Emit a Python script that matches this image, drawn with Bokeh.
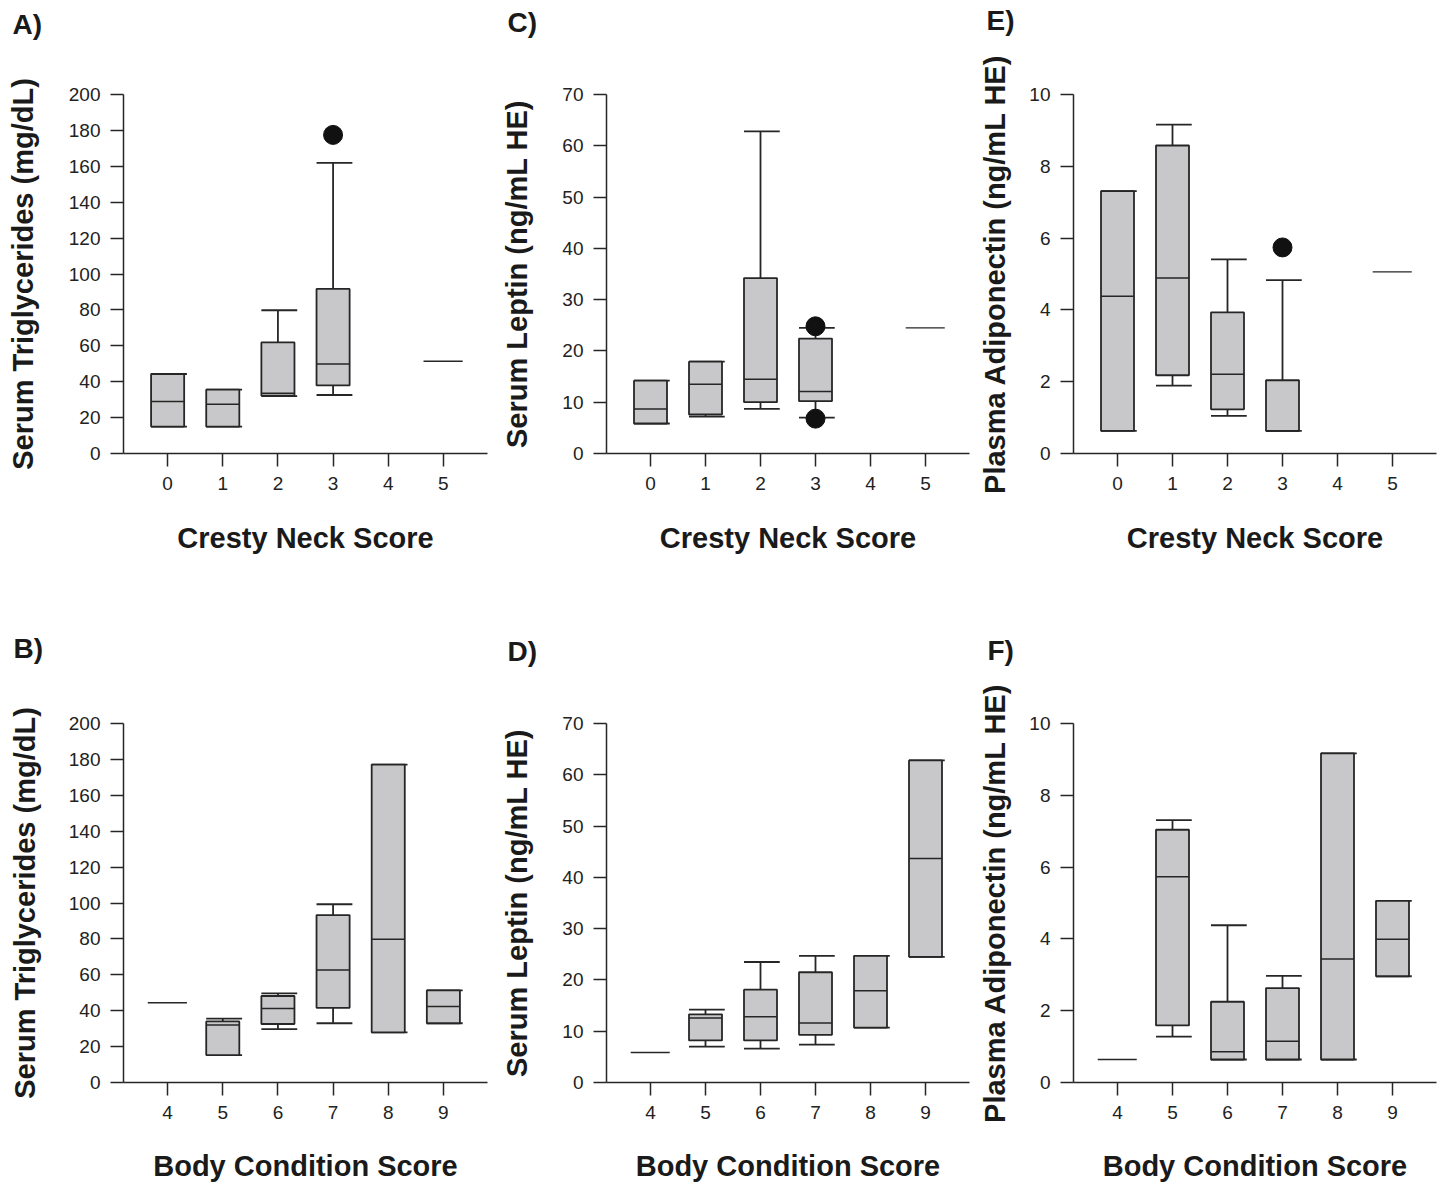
import numpy as np
from bokeh.plotting import figure
from bokeh.models import Range1d, FixedTicker, ColumnDataSource, Title
from bokeh.layouts import column, row
from bokeh.embed import file_html
from bokeh.resources import INLINE

# ---------------- data ----------------
cns_ticks = [0, 1, 2, 3, 4, 5]
bcs_ticks = [4, 5, 6, 7, 8, 9]
tg_ticks = [0, 20, 40, 60, 80, 100, 120, 140, 160, 180, 200]
lep_ticks = [0, 10, 20, 30, 40, 50, 60, 70]
adi_ticks = [0, 2, 4, 6, 8, 10]

# A) Serum triglycerides vs cresty neck score
a_x = [0, 1, 2, 3, 5]
a_min = [15.0, 15.0, 32.0, 32.6, 51.4]
a_q1 = [15.0, 15.0, 32.2, 37.9, 51.4]
a_med = [29.0, 27.5, 33.6, 49.8, 51.4]
a_q3 = [44.3, 35.6, 61.9, 91.7, 51.4]
a_max = [44.3, 35.6, 79.8, 161.9, 51.4]
a_out_x = [3]
a_out_y = [177.5]

# B) Serum triglycerides vs body condition score
b_x = [4, 5, 6, 7, 8, 9]
b_min = [44.4, 15.3, 29.7, 33.0, 27.9, 33.0]
b_q1 = [44.4, 15.3, 32.6, 41.6, 27.9, 33.0]
b_med = [44.4, 32.0, 41.2, 62.7, 79.8, 42.4]
b_q3 = [44.4, 34.0, 48.2, 93.3, 177.1, 51.3]
b_max = [44.4, 35.6, 49.6, 99.3, 177.1, 51.3]
b_out_x = []
b_out_y = []

# C) Serum leptin vs cresty neck score
c_x = [0, 1, 2, 3, 5]
c_min = [5.85, 7.2, 8.7, 7.0, 24.5]
c_q1 = [5.85, 7.6, 10.0, 10.2, 24.5]
c_med = [8.7, 13.5, 14.5, 12.1, 24.5]
c_q3 = [14.2, 17.9, 34.2, 22.4, 24.5]
c_max = [14.2, 17.9, 62.8, 24.5, 24.5]
c_out_x = [3, 3]
c_out_y = [24.8, 6.8]

# D) Serum leptin vs body condition score
d_x = [4, 5, 6, 7, 8, 9]
d_min = [5.86, 7.0, 6.6, 7.4, 10.7, 24.5]
d_q1 = [5.86, 8.2, 8.2, 9.3, 10.7, 24.5]
d_med = [5.86, 12.6, 12.8, 11.6, 17.9, 43.7]
d_q3 = [5.86, 13.3, 18.1, 21.5, 24.7, 62.8]
d_max = [5.86, 14.2, 23.5, 24.7, 24.7, 62.8]
d_out_x = []
d_out_y = []

# E) Plasma adiponectin vs cresty neck score
e_x = [0, 1, 2, 3, 5]
e_min = [0.63, 1.89, 1.05, 0.63, 5.06]
e_q1 = [0.63, 2.18, 1.23, 0.63, 5.06]
e_med = [4.38, 4.89, 2.21, 0.63, 5.06]
e_q3 = [7.31, 8.58, 3.93, 2.04, 5.06]
e_max = [7.31, 9.16, 5.41, 4.83, 5.06]
e_out_x = [3]
e_out_y = [5.74]

# F) Plasma adiponectin vs body condition score
f_x = [4, 5, 6, 7, 8, 9]
f_min = [0.64, 1.28, 0.64, 0.64, 0.64, 2.96]
f_q1 = [0.64, 1.59, 0.64, 0.64, 0.64, 2.96]
f_med = [0.64, 5.73, 0.86, 1.15, 3.44, 3.99]
f_q3 = [0.64, 7.04, 2.25, 2.63, 9.17, 5.06]
f_max = [0.64, 7.31, 4.38, 2.97, 9.17, 5.06]
f_out_x = []
f_out_y = []

# ---------------- styling ----------------
FONT = "Liberation Sans"
INK = "#262626"
TXT = "#1a1a1a"
BOX_FILL = "#c8c8ca"
LW = 1.8
HB = 0.30      # half box width (x units)
CAP_L, CAP_R = 0.30, 0.35
ONE_L, ONE_R = 0.36, 0.35


def make_panel(letter, ylabel, xlabel, ticks, yticks,
               xs, mins, q1s, meds, q3s, maxs, out_x, out_y,
               W, H, fl, fr, ft, fb, ylab_standoff, xlab_standoff, let_x, let_y):
    p = figure(width=W, height=H, output_backend="svg", toolbar_location=None,
               title=None,
               x_range=Range1d(ticks[0] - 0.8, ticks[-1] + 0.8),
               y_range=Range1d(yticks[0], yticks[-1]),
               min_border_left=fl, min_border_right=W - fr,
               min_border_top=ft, min_border_bottom=H - fb)
    # spacer panel (closest to frame) then panel letter above it
    gap = ft - 11 - let_y
    p.add_layout(Title(text=" ", text_font_size="1px", standoff=gap - 3,
                       text_color="white"), "above")
    p.add_layout(Title(text=letter, align="left", offset=let_x - fl,
                       standoff=0, text_font=FONT,
                       text_font_style="bold", text_font_size="28px",
                       text_color=TXT), "above")
    p.outline_line_color = None
    p.xgrid.visible = False
    p.ygrid.visible = False
    p.background_fill_color = "white"
    p.border_fill_color = "white"

    p.xaxis.ticker = FixedTicker(ticks=ticks)
    p.yaxis.ticker = FixedTicker(ticks=yticks)
    for ax in (p.xaxis[0], p.yaxis[0]):
        ax.axis_line_color = INK
        ax.axis_line_width = 1.5
        ax.major_tick_line_color = INK
        ax.major_tick_line_width = 1.5
        ax.major_tick_in = 0
        ax.major_tick_out = 13
        ax.minor_tick_in = 0
        ax.minor_tick_out = 0
        ax.major_label_text_font = FONT
        ax.major_label_text_font_size = "19px"
        ax.major_label_text_color = "#222222"
        ax.major_label_standoff = 10
        ax.axis_label_text_font = FONT
        ax.axis_label_text_font_style = "bold"
        ax.axis_label_text_font_size = "29px"
        ax.axis_label_text_color = TXT
    p.yaxis.axis_label = ylabel
    p.yaxis.axis_label_standoff = ylab_standoff
    p.xaxis.axis_label = xlabel
    p.xaxis.axis_label_standoff = xlab_standoff

    x = np.array(xs, dtype=float)
    mn = np.array(mins, dtype=float)
    q1 = np.array(q1s, dtype=float)
    md = np.array(meds, dtype=float)
    q3 = np.array(q3s, dtype=float)
    mx = np.array(maxs, dtype=float)

    single = mx == mn
    multi = ~single
    boxed = multi & (q3 > q1)

    # whiskers
    wsrc = ColumnDataSource(dict(
        x=np.concatenate([x[multi], x[multi]]),
        y0=np.concatenate([q3[multi], mn[multi]]),
        y1=np.concatenate([mx[multi], q1[multi]]),
    ))
    p.segment(x0="x", y0="y0", x1="x", y1="y1", source=wsrc,
              line_color=INK, line_width=LW)
    # caps
    csrc = ColumnDataSource(dict(
        l=np.concatenate([x[multi], x[multi]]) - CAP_L,
        r=np.concatenate([x[multi], x[multi]]) + CAP_R,
        y=np.concatenate([mx[multi], mn[multi]]),
    ))
    p.segment(x0="l", y0="y", x1="r", y1="y", source=csrc,
              line_color=INK, line_width=LW)
    # boxes
    bsrc = ColumnDataSource(dict(
        l=x[boxed] - HB, r=x[boxed] + HB, b=q1[boxed], t=q3[boxed], m=md[boxed],
    ))
    p.quad(left="l", right="r", bottom="b", top="t", source=bsrc,
           fill_color=BOX_FILL, line_color=INK, line_width=LW)
    p.segment(x0="l", y0="m", x1="r", y1="m", source=bsrc,
              line_color=INK, line_width=1.5)
    # single-value groups
    ssrc = ColumnDataSource(dict(l=x[single] - ONE_L, r=x[single] + ONE_R, y=md[single]))
    p.segment(x0="l", y0="y", x1="r", y1="y", source=ssrc,
              line_color=INK, line_width=1.4)
    # outliers
    if len(out_x):
        p.scatter(x=out_x, y=out_y, size=19, marker="circle",
                  fill_color="#111111", line_color="#111111")
    return p


CNS = "Cresty Neck Score"
BCS = "Body Condition Score"
TG = "Serum Triglycerides (mg/dL)"
LEP = "Serum Leptin (ng/mL HE)"
ADI = "Plasma Adiponectin (ng/mL HE)"

pA = make_panel("A)", TG, CNS, cns_ticks, tg_ticks,
                a_x, a_min, a_q1, a_med, a_q3, a_max, a_out_x, a_out_y,
                492, 600, 123, 487, 90, 453, 27, 29, 12, 24)
pC = make_panel("C)", LEP, CNS, cns_ticks, lep_ticks,
                c_x, c_min, c_q1, c_med, c_q3, c_max, c_out_x, c_out_y,
                483, 600, 114, 477, 92, 453, 26, 29, 15, 24)
pE = make_panel("E)", ADI, CNS, cns_ticks, adi_ticks,
                e_x, e_min, e_q1, e_med, e_q3, e_max, e_out_x, e_out_y,
                470, 600, 98, 461, 94, 457, 15, 29, 11, 24)
pB = make_panel("B)", TG, BCS, bcs_ticks, tg_ticks,
                b_x, b_min, b_q1, b_med, b_q3, b_max, b_out_x, b_out_y,
                492, 585, 123, 487, 123, 485, 25, 28, 13, 52)
pD = make_panel("D)", LEP, BCS, bcs_ticks, lep_ticks,
                d_x, d_min, d_q1, d_med, d_q3, d_max, d_out_x, d_out_y,
                483, 585, 114, 477, 120, 482, 26, 28, 15, 52)
pF = make_panel("F)", ADI, BCS, bcs_ticks, adi_ticks,
                f_x, f_min, f_q1, f_med, f_q3, f_max, f_out_x, f_out_y,
                470, 585, 98, 461, 121, 482, 15, 28, 12, 52)

layout = column(row(pA, pC, pE), row(pB, pD, pF))
open("out.html", "w").write(file_html(layout, INLINE))
